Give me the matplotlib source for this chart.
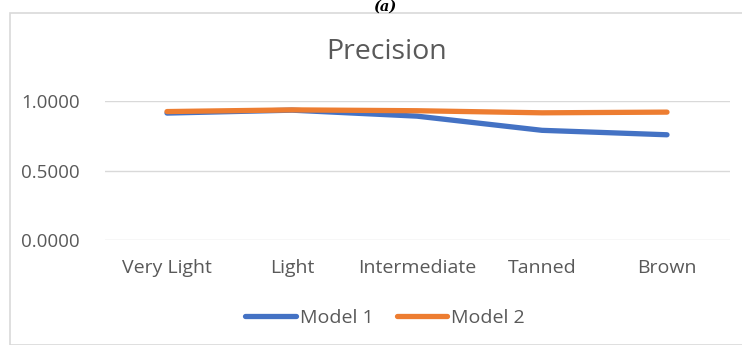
import matplotlib.pyplot as plt
from matplotlib.patches import Rectangle

categories = ["Very Light", "Light", "Intermediate", "Tanned", "Brown"]
model1 = [0.913, 0.934, 0.891, 0.789, 0.757]
model2 = [0.924, 0.936, 0.930, 0.915, 0.920]
yticks = [0.0, 0.5, 1.0]

plt.rcParams['font.family'] = ['Open Sans', 'DejaVu Sans']
grey = "#595959"

fig = plt.figure(figsize=(7.42, 3.45), dpi=100)

# chart frame, cut off at the right edge like the source
fig.patches.append(Rectangle((10 / 742, 0), 1.0, 1 - 13 / 345, transform=fig.transFigure,
                             fill=False, edgecolor="#d9d9d9", linewidth=1.2))
fig.text(385 / 742, 1.0, "(a)", ha="center", va="top", fontsize=10.5,
         family="DejaVu Serif", style="italic", fontweight="bold", color="black")

ax = fig.add_axes([104.5 / 742, 1 - 240 / 345, 625 / 742, 139 / 345])
x = list(range(len(categories)))
ax.plot(x, model1, color="#4472c4", linewidth=3.8, solid_capstyle="round", label="Model 1")
ax.plot(x, model2, color="#ed7d31", linewidth=3.8, solid_capstyle="round", label="Model 2")

ax.set_xlim(-0.5, len(categories) - 0.5)
ax.set_ylim(0, 1.0)
ax.set_yticks(yticks)
ax.set_yticklabels([f"{v:.4f}" for v in yticks], fontsize=13.5, color=grey)
ax.set_xticks(x)
ax.set_xticklabels(categories, fontsize=14, color=grey)
ax.tick_params(axis="y", length=0, pad=18)
ax.tick_params(axis="x", length=0, pad=14)
ax.grid(axis="y", color="#d9d9d9", linewidth=1)
ax.set_axisbelow(True)
for s in ax.spines.values():
    s.set_visible(False)
for ln in ax.lines:
    ln.set_clip_on(False)

fig.text(387 / 742, 1 - 52 / 345, "Precision", ha="center", va="center", fontsize=20.5, color=grey)

fig.legend(loc="center", bbox_to_anchor=(385 / 742, 1 - 318 / 345), ncol=2, frameon=False,
           fontsize=14, labelcolor=grey, handlelength=2.6, handletextpad=0.2, columnspacing=1.2)

fig.savefig("out.png", dpi=100)
